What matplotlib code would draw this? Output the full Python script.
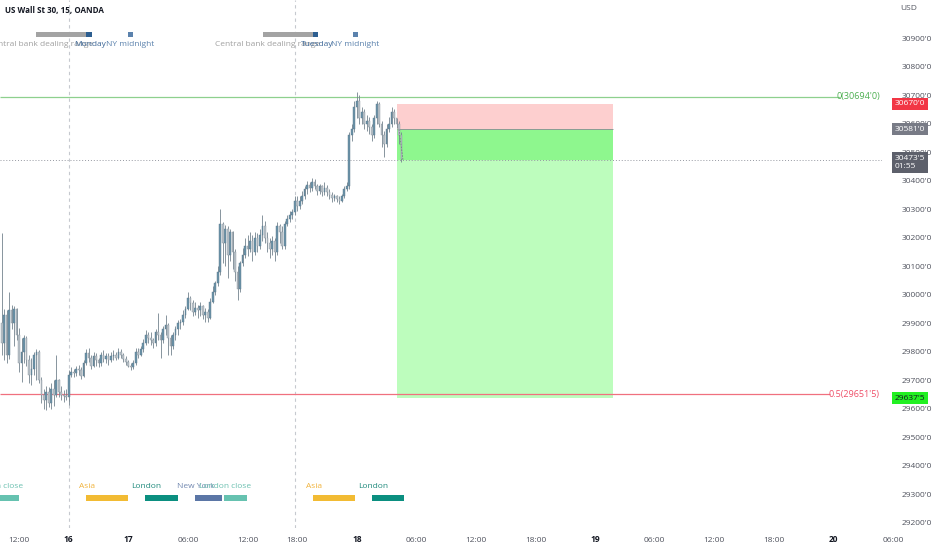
import numpy as np
import matplotlib.pyplot as plt
import matplotlib.transforms as mtransforms
from matplotlib.patches import Rectangle

plt.rcParams['font.family'] = ['Open Sans', 'DejaVu Sans']

# 15 min bars, index 0 = bar at the "16" separator
first_bar = -27
first_open = 29900
closes = [29830, 29930, 29790, 29945, 29900, 29950, 29860, 29760, 29800, 29850,
          29770, 29720, 29740, 29790, 29800, 29700, 29650, 29630, 29660, 29620,
          29670, 29650, 29700, 29660, 29650, 29645, 29640,
          29720, 29730, 29725, 29740, 29735, 29715, 29760, 29795, 29780, 29750,
          29785, 29770, 29760, 29790, 29775, 29785, 29770, 29785, 29790, 29780,
          29800, 29790, 29775, 29765, 29750, 29745, 29760, 29800, 29790, 29810,
          29830, 29860, 29850, 29840, 29830, 29870, 29860, 29840, 29880, 29895,
          29850, 29820, 29860, 29880, 29900, 29905, 29930, 29950, 29990, 29970,
          29940, 29955, 29945, 29960, 29930, 29940, 29920, 29975, 30010, 30040,
          30080, 30250, 30180, 30230, 30140, 30220, 30150, 30080, 30020, 30110,
          30140, 30170, 30160, 30190, 30150, 30200, 30170, 30210, 30240, 30200,
          30180, 30160, 30190, 30150, 30240, 30220, 30170, 30250, 30265, 30280,
          30290, 30330, 30310, 30330, 30345, 30370, 30385, 30375, 30395, 30380,
          30365, 30380, 30360, 30375, 30360, 30350, 30340, 30345, 30335, 30330,
          30345, 30370, 30380, 30560, 30580, 30660, 30680, 30620, 30640, 30600,
          30610, 30590, 30560, 30620, 30670, 30600, 30560, 30530, 30580, 30600,
          30640, 30620, 30600, 30560, 30475]
highs = [30215, 29950, 29945, 30010, 29965, 29960, 29955, 29885, 29850, 29860,
         29855, 29790, 29780, 29800, 29810, 29805, 29710, 29670, 29680, 29675,
         29690, 29700, 29790, 29705, 29680, 29665, 29670,
         29735, 29745, 29740, 29750, 29755, 29745, 29770, 29810, 29815, 29790,
         29800, 29795, 29780, 29800, 29805, 29795, 29795, 29800, 29805, 29800,
         29815, 29810, 29795, 29785, 29770, 29760, 29770, 29815, 29815, 29820,
         29845, 29875, 29870, 29870, 29850, 29880, 29935, 29870, 29890, 29930,
         29900, 29860, 29870, 29890, 29910, 29915, 29945, 29960, 30010, 29995,
         29980, 29975, 29965, 29975, 29965, 29955, 29950, 29990, 30030, 30050,
         30100, 30300, 30255, 30245, 30240, 30230, 30225, 30160, 30100, 30120,
         30165, 30200, 30210, 30220, 30210, 30220, 30215, 30230, 30280, 30260,
         30220, 30200, 30205, 30200, 30255, 30250, 30240, 30260, 30280, 30295,
         30300, 30345, 30345, 30345, 30365, 30380, 30400, 30395, 30410, 30405,
         30390, 30390, 30385, 30395, 30385, 30370, 30360, 30355, 30350, 30345,
         30355, 30380, 30395, 30570, 30600, 30680, 30710, 30700, 30660, 30650,
         30630, 30625, 30600, 30630, 30680, 30675, 30610, 30575, 30600, 30625,
         30660, 30650, 30620, 30610, 30570]
lows = [29790, 29770, 29760, 29775, 29880, 29820, 29840, 29730, 29695, 29760,
        29750, 29690, 29685, 29720, 29700, 29690, 29620, 29600, 29595, 29605,
        29600, 29610, 29640, 29640, 29630, 29625, 29630,
        29615, 29710, 29710, 29715, 29720, 29705, 29710, 29755, 29765, 29740,
        29745, 29750, 29745, 29750, 29765, 29760, 29755, 29765, 29770, 29770,
        29775, 29780, 29765, 29755, 29745, 29735, 29740, 29755, 29780, 29785,
        29800, 29825, 29830, 29825, 29815, 29820, 29840, 29780, 29830, 29860,
        29790, 29790, 29810, 29840, 29860, 29880, 29895, 29920, 29945, 29945,
        29925, 29930, 29920, 29925, 29915, 29905, 29905, 29915, 29970, 30000,
        30030, 30070, 30110, 30100, 30060, 30120, 30090, 30050, 29980, 30010,
        30100, 30130, 30135, 30150, 30120, 30140, 30150, 30160, 30190, 30180,
        30150, 30130, 30140, 30120, 30140, 30180, 30160, 30160, 30240, 30255,
        30265, 30280, 30295, 30300, 30320, 30335, 30355, 30360, 30365, 30370,
        30350, 30355, 30345, 30350, 30345, 30335, 30325, 30330, 30325, 30320,
        30325, 30340, 30365, 30370, 30540, 30570, 30620, 30600, 30600, 30580,
        30575, 30565, 30540, 30550, 30600, 30590, 30520, 30485, 30520, 30570,
        30590, 30600, 30585, 30530, 30465]

# time axis labels (bar index, text)
time_ticks = [-20, 0, 24, 48, 72, 92, 116, 140, 164, 188, 212, 236, 260, 284, 308, 332]
time_labels = ['12:00', '16', '17', '06:00', '12:00', '18:00', '18', '06:00', '12:00',
               '18:00', '19', '06:00', '12:00', '18:00', '20', '06:00']
bold_labels = ['16', '17', '18', '19', '20']
day_breaks = [0, 91.3]

price_ticks = list(range(29200, 31000, 100))

# fib levels and short position
fib0 = 30694.0
fib05 = 29651.5
stop_price = 30670.0
entry_price = 30581.0
target_price = 29637.5
last_price = 30473.5
pos_start, pos_end = 132.3, 219.2

# sessions indicator (bar ranges)
cb_ranges = [(-13.2, 20.2), (78.3, 20.1)]
day_marks = [(7.0, 2.4, 'Monday'), (98.4, 2.0, 'Tuesday')]
ny_marks = [(23.9, 2.0), (114.5, 2.0)]
sessions = [('London close', -29.0, 9.1), ('Asia', 7.0, 17.0), ('London', 30.8, 13.1),
            ('New York', 50.7, 10.9), ('London close', 62.5, 9.2),
            ('Asia', 98.3, 17.0), ('London', 122.1, 13.1)]
session_colors = {'Asia': '#f2bb33', 'London': '#0b8f80', 'New York': '#5b76a6',
                  'London close': '#66c2b0'}
session_text = {'Asia': '#f0b23a', 'London': '#1f8a7c', 'New York': '#7288b0',
                'London close': '#6cc0b0'}

fig = plt.figure(figsize=(9.32, 5.5), dpi=100)
ax = fig.add_axes([0, 22 / 550, 882 / 932, 528 / 550])
ax.set_xlim(-27.67, 327.5)
ax.set_ylim(29182, 31034)
for s in ax.spines.values():
    s.set_visible(False)

# candles
idx = np.arange(first_bar, first_bar + len(closes))
c = np.array(closes, dtype=float)
o = np.concatenate([[first_open], c[:-1]])
h = np.array(highs, dtype=float)
l = np.array(lows, dtype=float)
up = c >= o
ax.vlines(idx, l, h, color='#74838e', lw=0.6, zorder=3)
body_lo = np.minimum(o, c)
body_h = np.maximum(np.abs(c - o), 3)
ax.bar(idx[up], body_h[up], bottom=body_lo[up], width=0.7, color='#6b94aa',
       edgecolor='#5a7688', lw=0.3, zorder=4)
ax.bar(idx[~up], body_h[~up], bottom=body_lo[~up], width=0.7, color='#b9c2c9',
       edgecolor='#8e99a2', lw=0.3, zorder=4)

# day separators
for b in day_breaks:
    ax.axvline(b, color='#c6c9cf', lw=0.8, ls=(0, (3, 3)), zorder=1)

# fib lines
ax.hlines(fib0, -27.67, 310.6, color='#8ed08e', lw=0.9, zorder=2)
ax.text(326.6, fib0, "0(30694'0)", ha='right', va='center', color='#4caf50', fontsize=6.5)
ax.hlines(fib05, -27.67, 306.7, color='#f0707f', lw=0.9, zorder=2)
ax.text(326.6, fib05, "0.5(29651'5)", ha='right', va='center', color='#ef4f68', fontsize=6.5)

# current price line
ax.axhline(last_price, color='#9598a1', lw=0.7, ls=(0, (1, 2)), zorder=2)

# position tool
w = pos_end - pos_start
ax.add_patch(Rectangle((pos_start, entry_price), w, stop_price - entry_price,
                       fc='#fdcfcf', ec='none', zorder=1))
ax.add_patch(Rectangle((pos_start, last_price), w, entry_price - last_price,
                       fc='#8ef78e', ec='none', zorder=1))
ax.add_patch(Rectangle((pos_start, target_price), w, last_price - target_price,
                       fc='#bdfdbd', ec='none', zorder=1))
ax.hlines(entry_price, pos_start, pos_end, color='#8a8d96', lw=0.6, zorder=2)
ax.plot([133.0, 134.6], [entry_price, last_price], color='#787b86', lw=0.6,
        ls=(0, (2, 1.5)), zorder=5)

# sessions indicator
blend = mtransforms.blended_transform_factory(ax.transData, ax.transAxes)
for x0, wd in cb_ranges:
    ax.add_patch(Rectangle((x0, 1 - 37 / 528), wd, 5 / 528, transform=blend,
                           fc='#a3a3a3', ec='none'))
    ax.text(x0 + 2.0, 1 - 44 / 528, 'Central bank dealing range', transform=blend,
            ha='center', va='center', fontsize=6, color='#a0a0a0')
for x0, wd, name in day_marks:
    ax.add_patch(Rectangle((x0, 1 - 37 / 528), wd, 5 / 528, transform=blend,
                           fc='#2d5e90', ec='none'))
    ax.text(x0 + wd / 2 + 0.5, 1 - 44 / 528, name, transform=blend,
            ha='center', va='center', fontsize=6, color='#3d6797')
for x0, wd in ny_marks:
    ax.add_patch(Rectangle((x0, 1 - 37 / 528), wd, 5 / 528, transform=blend,
                           fc='#5b82ad', ec='none'))
    ax.text(x0 + wd / 2 - 0.3, 1 - 44 / 528, 'NY midnight', transform=blend,
            ha='center', va='center', fontsize=6, color='#5b82ad')
for name, x0, wd in sessions:
    ax.add_patch(Rectangle((x0, 1 - 501 / 528), wd, 6 / 528, transform=blend,
                           fc=session_colors[name], ec='none'))
    ax.text(x0 + 0.3, 1 - 487 / 528, name, transform=blend, ha='center', va='center',
            fontsize=6, color=session_text[name])

# time axis
ax.set_xticks([])
for b, lab in zip(time_ticks, time_labels):
    ax.text(b, -12 / 528, lab, transform=blend, ha='center', va='center', fontsize=6,
            color='#131722' if lab in bold_labels else '#50535e',
            fontweight='bold' if lab in bold_labels else 'normal', clip_on=False)

# price axis
ax.yaxis.tick_right()
ax.set_yticks(price_ticks)
ax.set_yticklabels([f"{p}'0" for p in price_ticks])
ax.tick_params(axis='y', length=0, pad=14, labelsize=6, labelcolor='#50535e')
fig.text(900 / 932, 1 - 9 / 550, 'USD', fontsize=6, color='#50535e', va='center')

yblend = mtransforms.blended_transform_factory(ax.transAxes, ax.transData)
boxes = [(stop_price, "30670'0", '#f23645', 'white'),
         (entry_price, "30581'0", '#787b86', 'white'),
         (last_price, "30473'5\n01:55", '#5d606b', 'white'),
         (target_price, "29637'5", '#22f022', '#131722')]
for p, txt, fc, tc in boxes:
    va = 'top' if '\n' in txt else 'center'
    yy = p + 18 if '\n' in txt else p
    ax.text(1.0145, yy, txt, transform=yblend, ha='left', va=va, fontsize=6, color=tc,
            linespacing=1.3, clip_on=False, zorder=10,
            bbox=dict(boxstyle='square,pad=0.3', fc=fc, ec='none'))

fig.text(5 / 932, 1 - 11 / 550, 'US Wall St 30, 15, OANDA', fontsize=5.8,
         fontweight='bold', color='#131722', va='center')

fig.savefig('out.png', dpi=100, facecolor='white')
